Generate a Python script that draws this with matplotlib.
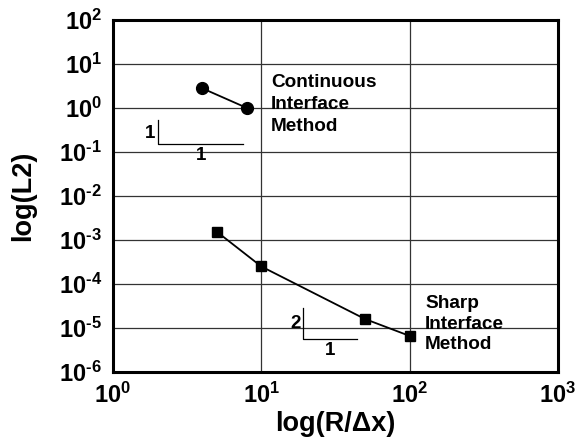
"""Convergence of L2 error for continuous vs sharp interface methods."""

import matplotlib
matplotlib.use("Agg")
import matplotlib.pyplot as plt

plt.rcParams["font.family"] = ["Liberation Sans", "DejaVu Sans"]
plt.rcParams["font.weight"] = "bold"
plt.rcParams["mathtext.fontset"] = "custom"
plt.rcParams["mathtext.rm"] = "Liberation Sans:bold"
plt.rcParams["mathtext.it"] = "Liberation Sans:bold"
plt.rcParams["mathtext.bf"] = "Liberation Sans:bold"

# data
continuous_x = [4, 8]
continuous_l2 = [2.8, 1.0]
sharp_x = [5, 10, 50, 100]
sharp_l2 = [1.55e-3, 2.5e-4, 1.6e-5, 6.6e-6]

# slope guide triangles (top of vertical leg, corner, end of horizontal leg)
cont_tri_x = [2.0, 2.0, 7.5]
cont_tri_y = [0.53, 0.152, 0.152]
sharp_tri_x = [19.0, 19.0, 44.0]
sharp_tri_y = [2.8e-5, 5.6e-6, 5.6e-6]

xticks = [1, 10, 100, 1000]
xtick_labels = [r"$10^{0}$", r"$10^{1}$", r"$10^{2}$", r"$10^{3}$"]
yticks = [1e-6, 1e-5, 1e-4, 1e-3, 1e-2, 1e-1, 1e0, 1e1, 1e2]
ytick_labels = [r"$10^{\text{-}6}$", r"$10^{\text{-}5}$", r"$10^{\text{-}4}$",
                r"$10^{\text{-}3}$", r"$10^{\text{-}2}$", r"$10^{\text{-}1}$",
                r"$10^{0}$", r"$10^{1}$", r"$10^{2}$"]

fig = plt.figure(figsize=(5.86, 4.46), dpi=100)
ax = fig.add_axes([113 / 586, 1 - 372 / 446, 445 / 586, 352 / 446])

ax.set_xscale("log")
ax.set_yscale("log")
ax.set_xlim(1, 1000)
ax.set_ylim(1e-6, 1e2)

ax.plot(continuous_x, continuous_l2, color="black", lw=1.3, marker="o", ms=8.5, zorder=3)
ax.plot(sharp_x, sharp_l2, color="black", lw=1.3, marker="s", ms=7, zorder=3)

ax.plot(cont_tri_x, cont_tri_y, color="black", lw=0.9)
ax.plot(sharp_tri_x, sharp_tri_y, color="black", lw=0.9)
ax.text(1.93, 0.27, "1", fontsize=13.5, ha="right", va="center")
ax.text(3.9, 0.13, "1", fontsize=13.5, ha="center", va="top")
ax.text(18.3, 1.25e-5, "2", fontsize=13.5, ha="right", va="center")
ax.text(29, 4.8e-6, "1", fontsize=13.5, ha="center", va="top")

ax.text(11.6, 6.0, "Continuous\nInterface\nMethod", fontsize=13.7, ha="left", va="top",
        linespacing=1.38)
ax.text(127, 5.6e-5, "Sharp\nInterface\nMethod", fontsize=13.7, ha="left", va="top",
        linespacing=1.28)

ax.set_xticks(xticks)
ax.set_xticklabels(xtick_labels)
ax.set_yticks(yticks)
ax.set_yticklabels(ytick_labels)
ax.minorticks_off()
ax.tick_params(length=0, labelsize=17, pad=8)
ax.grid(True, which="major", color="#333333", lw=0.9)
for spine in ax.spines.values():
    spine.set_linewidth(2.2)

ax.set_xlabel(r"log(R/Δx)", fontsize=19.5, fontweight="bold", labelpad=2)
ax.set_ylabel("log(L2)", fontsize=19.5, fontweight="bold", labelpad=16)

fig.savefig("out.png", dpi=100)
